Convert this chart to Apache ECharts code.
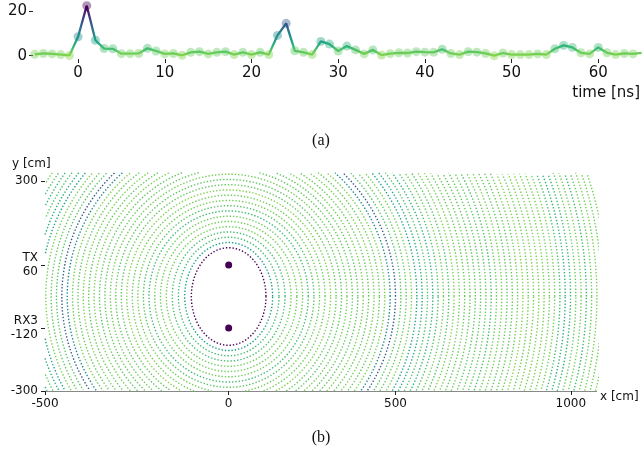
<!DOCTYPE html>
<html>
<head>
<meta charset="utf-8">
<script src="https://cdn.jsdelivr.net/npm/echarts@6/dist/echarts.min.js"></script>
<style>
  html, body { margin: 0; padding: 0; background: #fff; }
  #chart { width: 642px; height: 460px; }
</style>
</head>
<body>
<div id="chart"></div>
<script>
// sampled response, 1 ns steps
const times = [-5, -4, -3, -2, -1, 0, 1, 2, 3, 4, 5, 6, 7, 8, 9, 10, 11, 12, 13, 14,
  15, 16, 17, 18, 19, 20, 21, 22, 23, 24, 25, 26, 27, 28, 29, 30, 31, 32, 33, 34,
  35, 36, 37, 38, 39, 40, 41, 42, 43, 44, 45, 46, 47, 48, 49, 50, 51, 52, 53, 54,
  55, 56, 57, 58, 59, 60, 61, 62, 63, 64, 65];
const amplitude = [0.6, 1.0, 0.8, 0.5, 0.1, 8.5, 22.4, 6.9, 3.2, 3.1, 0.9, 0.9, 1.0, 3.3, 2.1, 0.8, 1.0, 0.2, 1.5, 1.8,
  0.8, 1.5, 1.8, 0.5, 1.5, 0.5, 1.5, 0.5, 9.1, 14.5, 2.2, 1.5, 0.5, 6.4, 5.2, 2.1, 4.3, 2.6, 0.8, 2.6,
  0.3, 0.9, 1.3, 1.2, 1.8, 1.6, 1.5, 2.9, 1.0, 0.5, 1.8, 1.6, 1.0, 0.0, 1.2, 0.5, 0.5, 0.5, 0.8, 0.5,
  3.1, 4.6, 3.7, 1.3, 0.8, 3.7, 1.3, 0.5, 1.0, 0.8, 1.3];

const timeTicks = [0, 10, 20, 30, 40, 50, 60];
const ampTicks = [0, 20];

// antenna positions (cm)
const txPos = [24, 60];
const rxPos = [24, -120];
const rxName = 'RX3';
const firstRing = 1;
const lastRing = 64;
const pathAtZero = 248.8;  // tx->point->rx length at t = 0, cm
const cmPerNs = 30;

const xTickValues = [-500, 24, 500, 1000];
const xTickLabels = ['-500', '0', '500', '1000'];
const yTickValues = [-300, rxPos[1], txPos[1], 300];
const yTickLabels = ['-300', rxName + '\n-120', 'TX\n60', '300'];

const xRange = [-500, 1074];
const yRange = [-300, 324];

const cmap = ['#fde725', '#b5de2b', '#6ece58', '#35b779', '#1f9e89',
  '#26828e', '#31688e', '#3e4989', '#482878', '#440154'];
const cmin = -5, cmax = 22;

function hexRgb(h) {
  return [parseInt(h.substr(1, 2), 16), parseInt(h.substr(3, 2), 16), parseInt(h.substr(5, 2), 16)];
}
function colorOf(v) {
  let f = (v - cmin) / (cmax - cmin);
  f = Math.max(0, Math.min(1, f)) * (cmap.length - 1);
  const i = Math.min(Math.floor(f), cmap.length - 2);
  const k = f - i;
  const a = hexRgb(cmap[i]), b = hexRgb(cmap[i + 1]);
  const c = a.map((x, j) => Math.round(x + (b[j] - x) * k));
  return 'rgb(' + c.join(',') + ')';
}

function ringPoints(t) {
  const c = (txPos[1] - rxPos[1]) / 2;
  const a = (pathAtZero + cmPerNs * t) / 2;
  const b = Math.sqrt(a * a - c * c);
  const xc = txPos[0], yc = (txPos[1] + rxPos[1]) / 2;
  const n = 900;
  const pts = [];
  for (let i = 0; i <= n; i++) {
    const th = 2 * Math.PI * i / n;
    const x = xc + b * Math.cos(th);
    const y = yc + a * Math.sin(th);
    if (x < xRange[0] || y < yRange[0] || y > yRange[1]) pts.push(['-', '-']);
    else pts.push([x, y]);
  }
  return pts;
}

const lineData = times.map((t, i) => [t, amplitude[i]]);

const ringSeries = [];
for (let t = firstRing; t <= lastRing; t++) {
  const v = amplitude[times.indexOf(t)];
  ringSeries.push({
    type: 'line',
    xAxisIndex: 1,
    yAxisIndex: 1,
    data: ringPoints(t),
    symbol: 'none',
    clip: false,
    silent: true,
    connectNulls: false,
    lineStyle: { color: colorOf(v), width: 1.4, type: [1.4, 1.9] },
    z: 2
  });
}

const chart = echarts.init(document.getElementById('chart'));
const font = 'DejaVu Sans';

chart.setOption({
  animation: false,
  backgroundColor: '#fff',
  grid: [
    { left: 33, top: 2.1, width: 606.9, height: 56.95 },
    { left: 45, top: 172.6, width: 551.7, height: 218.4 }
  ],
  xAxis: [
    {
      gridIndex: 0, type: 'value', min: -5.2, max: 64.8,
      splitLine: { show: false },
      axisLine: { show: false, onZero: false },
      axisTick: { show: true, length: 4, customValues: timeTicks, lineStyle: { color: '#222' } },
      axisLabel: { customValues: timeTicks, fontFamily: font, fontSize: 15, color: '#111', margin: 7 }
    },
    {
      gridIndex: 1, type: 'value', min: xRange[0], max: xRange[1],
      splitLine: { show: false },
      axisLine: { show: true, onZero: false, lineStyle: { color: '#888', width: 1 } },
      axisTick: { show: true, length: 4, customValues: xTickValues, lineStyle: { color: '#222' } },
      axisLabel: {
        customValues: xTickValues, fontFamily: font, fontSize: 12, color: '#111', margin: 7,
        formatter: v => xTickLabels[xTickValues.indexOf(v)]
      }
    }
  ],
  yAxis: [
    {
      gridIndex: 0, type: 'value', min: -1.5, max: 24,
      splitLine: { show: false },
      axisLine: { show: false, onZero: false },
      axisTick: { show: true, length: 4, customValues: ampTicks, lineStyle: { color: '#222' } },
      axisLabel: { customValues: ampTicks, fontFamily: font, fontSize: 15, color: '#111', margin: 6 }
    },
    {
      gridIndex: 1, type: 'value', min: yRange[0], max: yRange[1],
      splitLine: { show: false },
      axisLine: { show: false, onZero: false },
      axisTick: { show: true, length: 4, customValues: yTickValues, lineStyle: { color: '#222' } },
      axisLabel: {
        customValues: yTickValues, fontFamily: font, fontSize: 12, color: '#111', margin: 7,
        lineHeight: 14, align: 'right', padding: [3, 0, 0, 0],
        formatter: v => yTickLabels[yTickValues.indexOf(v)]
      }
    }
  ],
  visualMap: {
    type: 'continuous', show: false, seriesIndex: [0, 1], dimension: 1,
    min: cmin, max: cmax, inRange: { color: cmap }
  },
  series: [
    {
      type: 'line', xAxisIndex: 0, yAxisIndex: 0, data: lineData,
      symbol: 'none', lineStyle: { width: 2.3 }, z: 3
    },
    {
      type: 'scatter', xAxisIndex: 0, yAxisIndex: 0, data: lineData,
      symbolSize: 9, itemStyle: { opacity: 0.42 }, z: 4
    },
    ...ringSeries,
    {
      type: 'scatter', xAxisIndex: 1, yAxisIndex: 1, data: [txPos, rxPos],
      symbolSize: 7, itemStyle: { color: '#440154', opacity: 1 }, z: 5
    }
  ],
  graphic: [
    { type: 'text', right: 2, top: 86, style: { text: 'time [ns]', font: '15px "DejaVu Sans"', fill: '#111' } },
    { type: 'text', left: 'center', top: 133, style: { text: '(a)', font: '16px "Liberation Serif"', fill: '#111' } },
    { type: 'text', left: 12, top: 158, style: { text: 'y [cm]', font: '12px "DejaVu Sans"', fill: '#111' } },
    { type: 'text', left: 600, top: 391, style: { text: 'x [cm]', font: '12px "DejaVu Sans"', fill: '#111' } },
    { type: 'text', left: 'center', top: 430, style: { text: '(b)', font: '16px "Liberation Serif"', fill: '#111' } }
  ]
});
</script>
</body>
</html>
